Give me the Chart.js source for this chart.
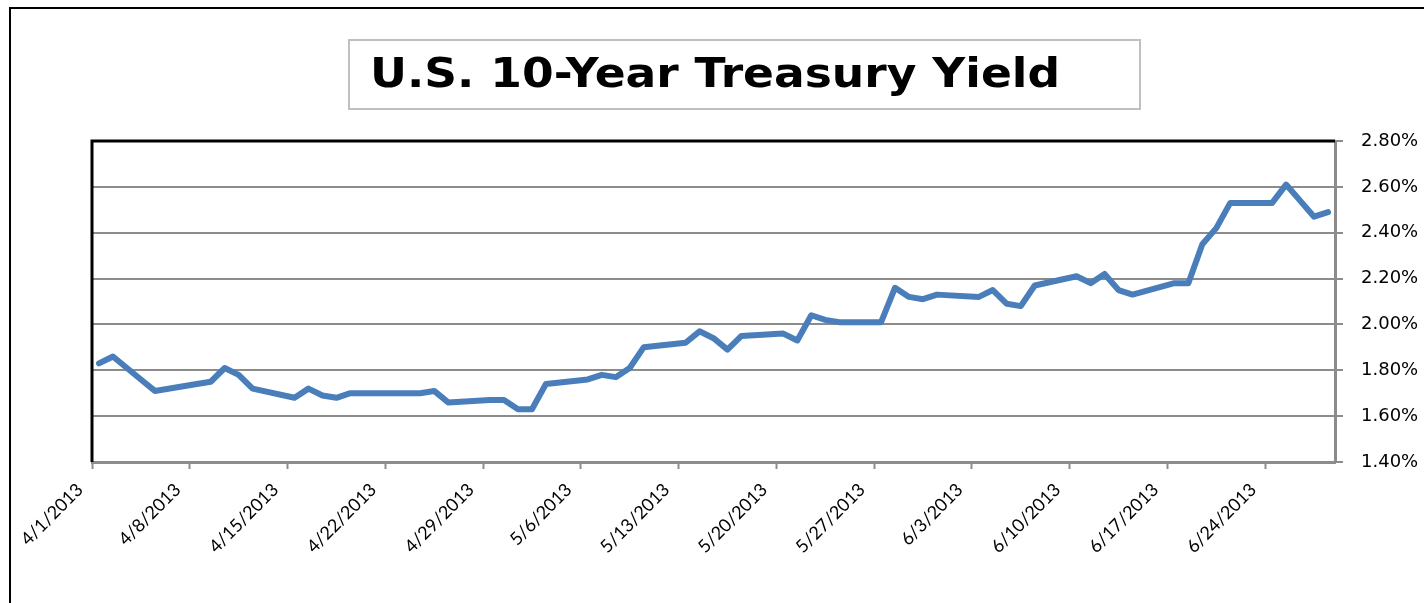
<!DOCTYPE html>
<html>
<head>
<meta charset="utf-8">
<title>U.S. 10-Year Treasury Yield</title>
<script src="https://cdn.jsdelivr.net/npm/chart.js@4.4.1/dist/chart.umd.min.js"></script>
<style>
  html, body { margin: 0; padding: 0; background: #fff; }
  canvas { display: block; }
</style>
</head>
<body>
<canvas id="yield-chart" width="1424" height="603"></canvas>
<script>
// ─── Data ─────────────────────────────────────────────────────────────
const CHART_TITLE = "U.S. 10-Year Treasury Yield";

const tradeDates = [
  "4/1/2013", "4/2/2013", "4/3/2013", "4/4/2013", "4/5/2013",
  "4/8/2013", "4/9/2013", "4/10/2013", "4/11/2013", "4/12/2013",
  "4/15/2013", "4/16/2013", "4/17/2013", "4/18/2013", "4/19/2013",
  "4/22/2013", "4/23/2013", "4/24/2013", "4/25/2013", "4/26/2013",
  "4/29/2013", "4/30/2013", "5/1/2013", "5/2/2013", "5/3/2013",
  "5/6/2013", "5/7/2013", "5/8/2013", "5/9/2013", "5/10/2013",
  "5/13/2013", "5/14/2013", "5/15/2013", "5/16/2013", "5/17/2013",
  "5/20/2013", "5/21/2013", "5/22/2013", "5/23/2013", "5/24/2013",
  "5/27/2013", "5/28/2013", "5/29/2013", "5/30/2013", "5/31/2013",
  "6/3/2013", "6/4/2013", "6/5/2013", "6/6/2013", "6/7/2013",
  "6/10/2013", "6/11/2013", "6/12/2013", "6/13/2013", "6/14/2013",
  "6/17/2013", "6/18/2013", "6/19/2013", "6/20/2013", "6/21/2013",
  "6/24/2013", "6/25/2013", "6/26/2013", "6/27/2013", "6/28/2013",
];

// 10-year yield, percent
const yields = [
  1.83, 1.86, 1.81, 1.76, 1.71,
  1.74, 1.75, 1.81, 1.78, 1.72,
  1.68, 1.72, 1.69, 1.68, 1.70,
  1.70, 1.70, 1.70, 1.71, 1.66,
  1.67, 1.67, 1.63, 1.63, 1.74,
  1.76, 1.78, 1.77, 1.81, 1.90,
  1.92, 1.97, 1.94, 1.89, 1.95,
  1.96, 1.93, 2.04, 2.02, 2.01,
  2.01, 2.16, 2.12, 2.11, 2.13,
  2.12, 2.15, 2.09, 2.08, 2.17,
  2.21, 2.18, 2.22, 2.15, 2.13,
  2.18, 2.18, 2.35, 2.42, 2.53,
  2.53, 2.61, 2.54, 2.47, 2.49,
];

const tickDates = [
  "4/1/2013", "4/8/2013", "4/15/2013", "4/22/2013", "4/29/2013",
  "5/6/2013", "5/13/2013", "5/20/2013", "5/27/2013", "6/3/2013",
  "6/10/2013", "6/17/2013", "6/24/2013",
];

const Y_MIN = 1.4;
const Y_MAX = 2.8;
const Y_STEP = 0.2;

// ─── Helpers ──────────────────────────────────────────────────────────
// days since the first tick date (date axis, one slot per day)
function dayIndex(str) {
  const [m, d, y] = str.split("/").map(Number);
  const [m0, d0, y0] = tickDates[0].split("/").map(Number);
  return (Date.UTC(y, m - 1, d) - Date.UTC(y0, m0 - 1, d0)) / 86400000;
}

// points sit in the middle of their day slot
const points = tradeDates.map((d, i) => ({ x: dayIndex(d) + 0.5, y: yields[i] }));
const lastDay = dayIndex(tradeDates[tradeDates.length - 1]) + 1;

const GRID_GREY = "#8c8c8c";

// ─── Frame, title box, plot border ────────────────────────────────────
const framePlugin = {
  id: "frame",
  beforeDraw(chart) {
    const { ctx, width, height } = chart;
    ctx.save();
    ctx.fillStyle = "#fff";
    ctx.fillRect(0, 0, width, height);

    // outer chart border (top + left visible)
    ctx.strokeStyle = "#000";
    ctx.lineWidth = 2;
    ctx.beginPath();
    ctx.moveTo(width, 8);
    ctx.lineTo(10, 8);
    ctx.lineTo(10, height);
    ctx.stroke();

    // title box
    ctx.strokeStyle = "#c0c0c0";
    ctx.lineWidth = 2;
    ctx.strokeRect(349, 40, 791, 69);

    // title text, stretched to the reference's wide bold face
    ctx.fillStyle = "#000";
    ctx.font = 'bold 40px "DejaVu Sans"';
    ctx.textBaseline = "alphabetic";
    ctx.textAlign = "left";
    const w = ctx.measureText(CHART_TITLE).width;
    ctx.translate(370, 87);
    ctx.scale(690 / w, 1);
    ctx.fillText(CHART_TITLE, 0, 0);
    ctx.restore();
  },
  beforeDatasetsDraw(chart) {
    const { ctx, chartArea: a } = chart;
    ctx.save();
    ctx.strokeStyle = "#000";
    ctx.lineWidth = 3;
    ctx.beginPath();
    ctx.moveTo(a.right, a.top);
    ctx.lineTo(a.left, a.top);
    ctx.lineTo(a.left, a.bottom);
    ctx.stroke();
    ctx.restore();
  },
};

// ─── Chart ────────────────────────────────────────────────────────────
const ctx = document.getElementById("yield-chart").getContext("2d");
new Chart(ctx, {
  type: "line",
  data: {
    datasets: [{
      label: "10-Year Yield",
      data: points,
      borderColor: "#4a7ebb",
      borderWidth: 6,
      borderJoinStyle: "round",
      borderCapStyle: "round",
      tension: 0,
      pointRadius: 0,
      fill: false,
    }],
  },
  options: {
    responsive: false,
    animation: false,
    layout: { padding: { left: 92, top: 141, right: 0, bottom: 0 } },
    plugins: {
      legend: { display: false },
      title: { display: false },
      tooltip: { enabled: false },
    },
    scales: {
      x: {
        type: "linear",
        position: "bottom",
        min: 0,
        max: lastDay,
        afterBuildTicks: (s) => { s.ticks = tickDates.map((d) => ({ value: dayIndex(d) })); },
        afterFit: (s) => { s.height = 141; },
        ticks: {
          autoSkip: false,
          minRotation: 45,
          maxRotation: 45,
          padding: 10,
          labelOffset: -12,
          color: "#000",
          font: { family: "Lato", size: 18 },
          callback: (v, i) => tickDates[i],
        },
        grid: {
          drawOnChartArea: false,
          drawTicks: true,
          tickLength: 7,
          tickWidth: 2,
          tickColor: GRID_GREY,
        },
        border: { color: GRID_GREY, width: 3 },
      },
      y: {
        type: "linear",
        position: "right",
        min: Y_MIN,
        max: Y_MAX,
        afterFit: (s) => { s.width = 89; },
        ticks: {
          stepSize: Y_STEP,
          padding: 18,
          color: "#000",
          font: { family: "DejaVu Sans", size: 18 },
          callback: (v) => v.toFixed(2) + "%",
        },
        grid: {
          color: GRID_GREY,
          lineWidth: 2,
          tickLength: 8,
          tickColor: GRID_GREY,
        },
        border: { color: GRID_GREY, width: 3 },
      },
    },
  },
  plugins: [framePlugin],
});
</script>
</body>
</html>
